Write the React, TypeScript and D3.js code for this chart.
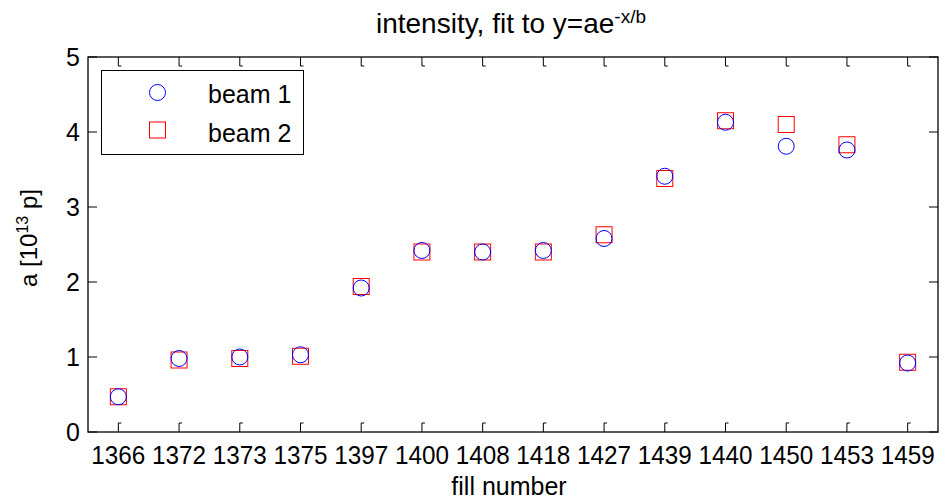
import React from "react";
import * as d3 from "d3";

const fills = ["1366", "1372", "1373", "1375", "1397", "1400", "1408", "1418", "1427", "1439", "1440", "1450", "1453", "1459"];
const beam1 = [0.47, 0.98, 1.0, 1.03, 1.92, 2.42, 2.4, 2.42, 2.58, 3.41, 4.13, 3.81, 3.76, 0.92];
const beam2 = [0.47, 0.96, 0.98, 1.01, 1.94, 2.4, 2.4, 2.4, 2.63, 3.38, 4.15, 4.1, 3.83, 0.93];
const yTicks = [0, 1, 2, 3, 4, 5];
const legendLabels = ["beam 1", "beam 2"];

const W = 948;
const H = 502;
const M = { left: 88, right: 938, top: 57, bottom: 432 };
const FONT = "'Liberation Sans', Arial, sans-serif";

export default function App() {
  const x = d3.scaleLinear().domain([0.5, fills.length + 0.5]).range([M.left, M.right]);
  const y = d3.scaleLinear().domain([0, 5]).range([M.bottom, M.top]);
  const tl = 9;
  const fs = 25;

  return (
    <svg width={W} height={H} style={{ position: "absolute", left: 0, top: 0, background: "#fff" }} fontFamily={FONT}>
      <rect x={0} y={0} width={W} height={H} fill="#fff" />
      {/* title */}
      <text x={511} y={33} fontSize={28} textAnchor="middle" fill="#000">
        intensity, fit to y=ae<tspan dy={-10} fontSize={19}>-x/b</tspan>
      </text>
      {/* x ticks */}
      {fills.map((f, i) => {
        const xx = x(i + 1);
        return (
          <g key={f}>
            <path d={`M${xx},${M.bottom}V${M.bottom - tl}h3`} stroke="#000" fill="none" strokeWidth={1} />
            <path d={`M${xx},${M.top}V${M.top + tl}h3`} stroke="#000" fill="none" strokeWidth={1} />
            <text x={xx} y={464} fontSize={fs} textAnchor="middle" fill="#000" textLength={54} lengthAdjust="spacingAndGlyphs">{f}</text>
          </g>
        );
      })}
      {/* y ticks */}
      {yTicks.map((t) => {
        const yy = y(t);
        return (
          <g key={t}>
            <path d={`M${M.left},${yy}H${M.left + tl}`} stroke="#000" strokeWidth={1} />
            <path d={`M${M.right},${yy}H${M.right - tl}`} stroke="#000" strokeWidth={1} />
            <text x={80} y={yy + 9} fontSize={fs} textAnchor="end" fill="#000">{t}</text>
          </g>
        );
      })}
      {/* axes box */}
      <rect x={M.left} y={M.top} width={M.right - M.left} height={M.bottom - M.top} fill="none" stroke="#000" strokeWidth={1.3} />
      {/* axis labels */}
      <text x={509} y={495} fontSize={fs} textAnchor="middle" fill="#000">fill number</text>
      <text transform={`translate(37,238) rotate(-90)`} fontSize={24} textAnchor="middle" fill="#000">
        a [10<tspan dy={-9} fontSize={16}>13</tspan><tspan dy={9}> p]</tspan>
      </text>
      {/* data */}
      {beam2.map((v, i) => (
        <rect key={"s" + i} x={x(i + 1) - 8} y={y(v) - 8} width={16} height={16} fill="none" stroke="#ff0000" strokeWidth={1} />
      ))}
      {beam1.map((v, i) => (
        <circle key={"c" + i} cx={x(i + 1)} cy={y(v)} r={8} fill="none" stroke="#0000ff" strokeWidth={1} />
      ))}
      {/* legend */}
      <rect x={101.5} y={70.5} width={202} height={84} fill="#fff" stroke="#000" strokeWidth={1} />
      <circle cx={157.5} cy={92.5} r={8} fill="none" stroke="#0000ff" strokeWidth={1} />
      <rect x={149.5} y={122} width={16} height={16} fill="none" stroke="#ff0000" strokeWidth={1} />
      <text x={208} y={103} fontSize={fs} fill="#000">{legendLabels[0]}</text>
      <text x={208} y={141.5} fontSize={fs} fill="#000">{legendLabels[1]}</text>
    </svg>
  );
}
